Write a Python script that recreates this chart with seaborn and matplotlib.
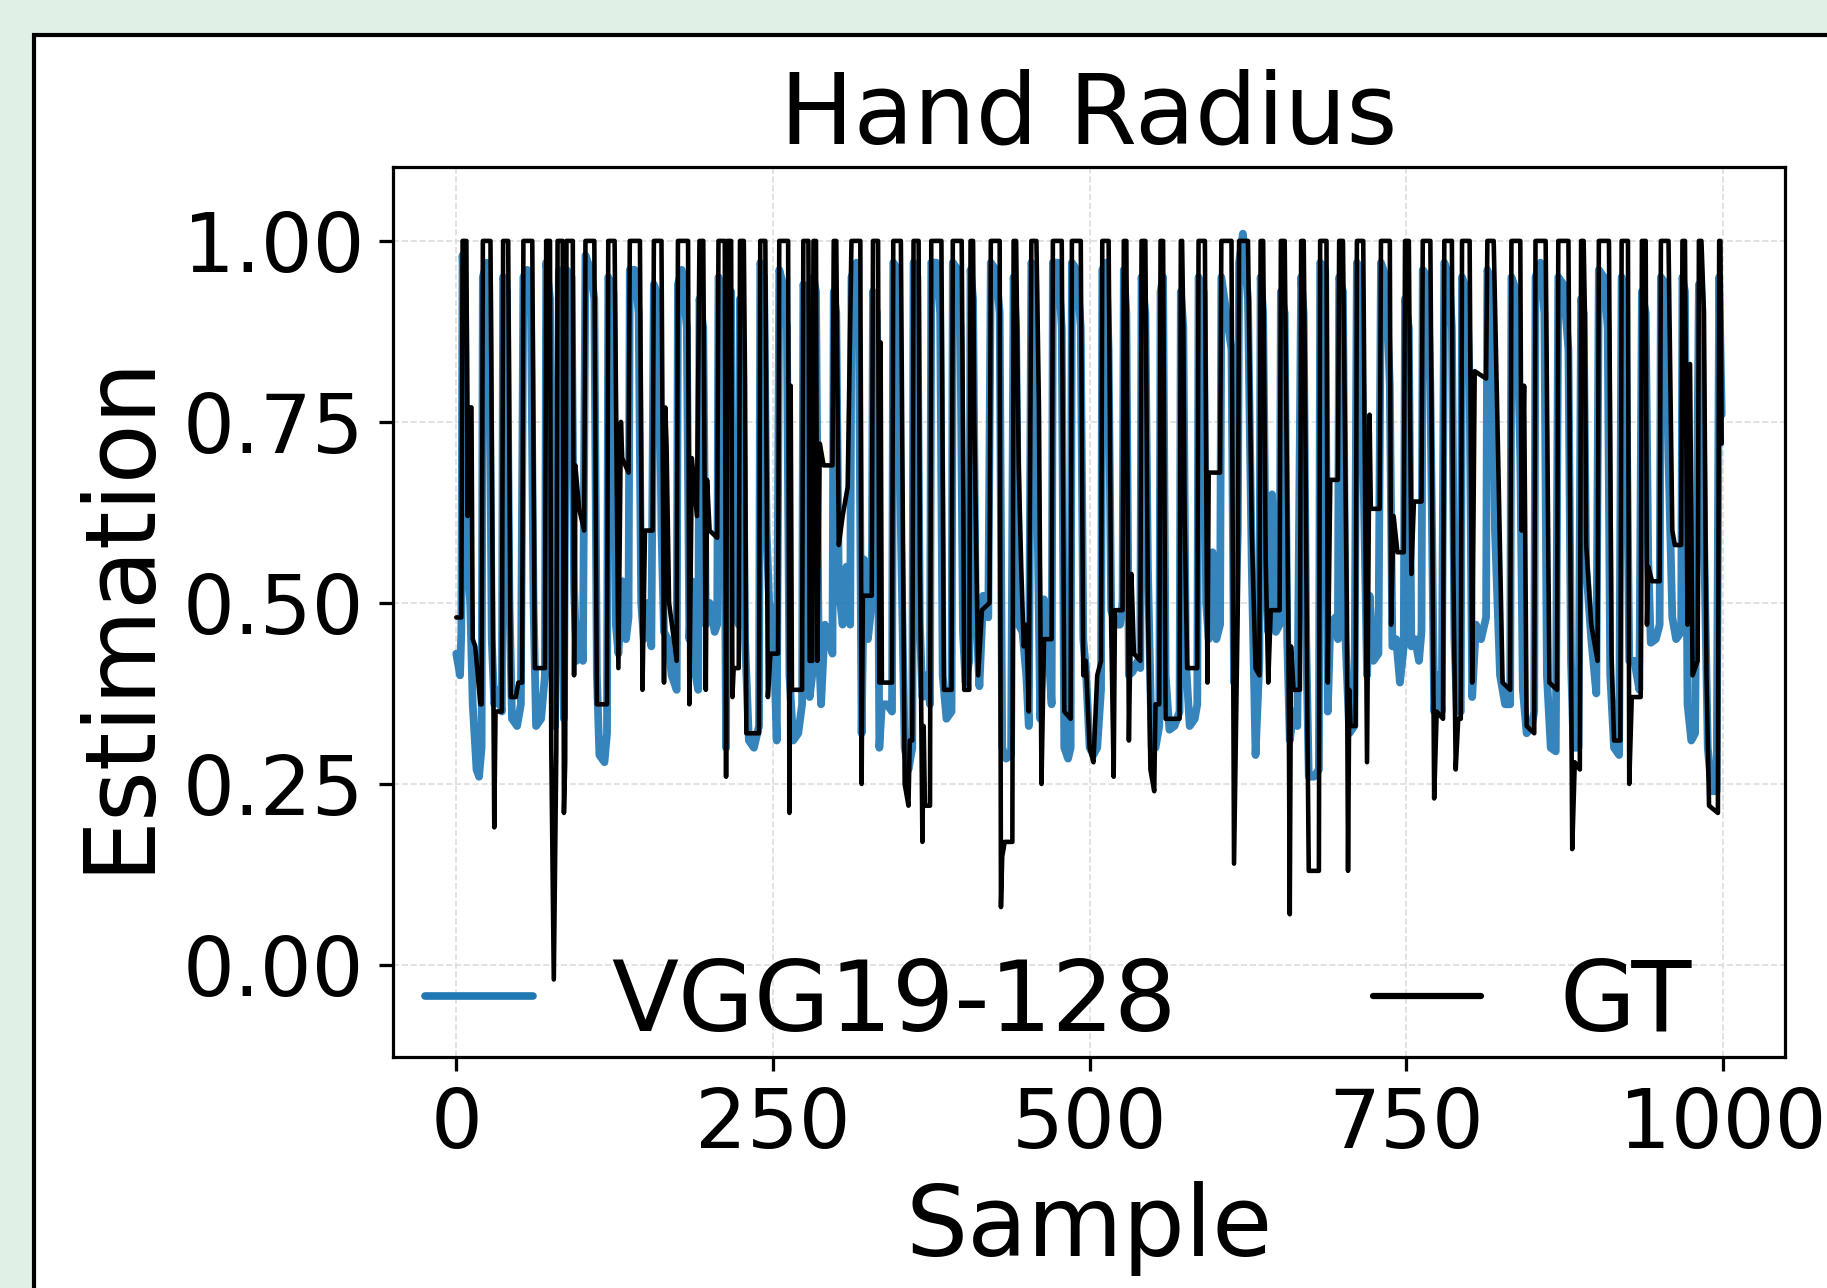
import matplotlib
matplotlib.use("Agg")
import matplotlib.pyplot as plt
from matplotlib.patches import Rectangle
from matplotlib.lines import Line2D
import seaborn as sns
import pandas as pd

gt_x = [0, 4, 5, 8, 9, 10, 12, 13, 15, 19, 20, 21, 27, 30, 31, 36, 37, 41, 43, 47, 49, 52, 53, 60, 62, 70,
        71, 74, 75, 77, 79, 80, 84, 85, 86, 87, 92, 93, 94, 97, 101, 102, 109, 111, 119, 120, 125, 128, 130,
        131, 136, 137, 145, 147, 149, 155, 156, 162, 164, 165, 166, 168, 174, 175, 183, 184, 186, 188, 190,
        192, 195, 197, 198, 200, 206, 207, 212, 213, 214, 217, 218, 219, 223, 224, 227, 228, 229, 239, 240,
        244, 246, 248, 254, 255, 262, 263, 264, 265, 273, 274, 278, 279, 281, 282, 284, 285, 287, 290, 297,
        298, 300, 302, 305, 309, 312, 319, 320, 321, 328, 329, 333, 334, 335, 336, 344, 345, 351, 354, 357,
        358, 360, 361, 365, 366, 368, 369, 370, 374, 375, 383, 385, 391, 392, 399, 400, 401, 405, 406, 408,
        409, 412, 415, 421, 422, 429, 430, 431, 433, 439, 440, 442, 444, 446, 448, 450, 452, 454, 458, 460,
        462, 464, 470, 471, 478, 480, 485, 486, 493, 495, 497, 500, 503, 506, 509, 510, 515, 516, 517, 519,
        520, 526, 527, 529, 531, 533, 535, 540, 541, 544, 546, 548, 551, 552, 555, 556, 558, 560, 571, 572,
        573, 574, 575, 577, 585, 586, 591, 593, 594, 603, 604, 612, 614, 617, 618, 625, 628, 631, 634, 635,
        637, 639, 641, 643, 650, 651, 654, 657, 658, 659, 661, 666, 667, 669, 670, 672, 673, 681, 682, 687,
        688, 690, 696, 697, 700, 703, 704, 705, 706, 710, 711, 716, 719, 721, 722, 729, 730, 737, 738, 740,
        743, 748, 749, 752, 754, 756, 762, 763, 769, 772, 774, 779, 780, 786, 787, 789, 791, 793, 794, 800,
        802, 804, 813, 814, 819, 823, 826, 832, 833, 840, 841, 843, 845, 851, 852, 860, 863, 869, 870, 878,
        881, 883, 887, 888, 890, 891, 892, 896, 901, 902, 910, 912, 914, 919, 920, 925, 926, 928, 935, 936,
        939, 940, 941, 944, 950, 951, 957, 960, 962, 967, 968, 970, 972, 974, 976, 980, 981, 983, 985, 987,
        989, 996, 997, 998, 999]
gt_y = [0.48, 0.48, 1, 1, 0.62, 0.77, 0.77, 0.45, 0.44, 0.36, 0.36, 1, 1, 0.19, 0.35, 0.35, 1, 1, 0.37, 0.37,
        0.39, 0.39, 1, 1, 0.41, 0.41, 1, 1, 0.30, -0.02, 0.30, 1, 1, 0.21, 0.28, 1, 1, 0.40, 0.69, 0.63, 0.60,
        1, 1, 0.36, 0.36, 1, 1, 0.41, 0.75, 0.70, 0.68, 1, 1, 0.38, 0.60, 0.60, 1, 1, 0.39, 0.77, 0.72, 0.50,
        0.42, 1, 1, 0.36, 0.70, 0.66, 0.62, 1, 1, 0.38, 0.67, 0.60, 0.59, 1, 1, 0.26, 1, 1, 0.37, 0.41, 0.41,
        1, 1, 0.80, 0.32, 0.32, 1, 1, 0.37, 0.43, 0.43, 1, 1, 0.21, 0.80, 0.38, 0.38, 1, 1, 0.42, 0.42, 1, 1,
        0.42, 0.72, 0.69, 0.69, 1, 1, 0.58, 0.62, 0.66, 1, 1, 0.25, 0.51, 0.51, 1, 1, 0.39, 0.86, 0.39, 0.39,
        1, 1, 0.25, 0.22, 0.31, 0.31, 1, 1, 0.56, 0.17, 0.33, 0.22, 0.22, 1, 1, 0.38, 0.38, 1, 1, 0.74, 0.38,
        0.38, 1, 1, 0.75, 0.40, 0.49, 0.50, 1, 1, 0.08, 0.15, 0.17, 0.17, 1, 1, 0.69, 0.55, 0.44, 0.47, 0.35,
        1, 1, 0.77, 0.25, 0.45, 0.45, 1, 1, 0.35, 0.34, 1, 1, 0.40, 0.42, 0.30, 0.28, 0.40, 0.42, 1, 1, 0.76,
        0.47, 0.26, 0.49, 0.49, 1, 1, 0.31, 0.54, 0.43, 0.42, 1, 1, 0.50, 0.27, 0.24, 0.36, 0.36, 1, 1, 0.34,
        0.34, 1, 1, 0.88, 0.62, 0.41, 0.41, 1, 1, 0.39, 0.68, 0.68, 1, 1, 0.14, 0.50, 1, 1, 0.60, 0.41, 0.40,
        1, 1, 0.56, 0.39, 0.49, 0.49, 1, 1, 0.44, 0.07, 0.44, 0.38, 0.38, 1, 1, 0.82, 0.32, 0.13, 0.13, 1, 1,
        0.39, 0.67, 0.67, 1, 1, 0.50, 0.13, 0.38, 0.33, 0.33, 1, 1, 0.28, 0.76, 0.63, 0.63, 1, 1, 0.47, 0.62,
        0.57, 0.57, 1, 1, 0.54, 0.64, 0.64, 1, 1, 0.23, 0.35, 0.34, 1, 1, 0.57, 0.27, 0.34, 0.34, 1, 1, 0.39,
        0.82, 0.81, 1, 1, 0.66, 0.39, 0.38, 1, 1, 0.60, 0.80, 0.33, 0.32, 1, 1, 0.39, 0.38, 1, 1, 0.16, 0.28,
        0.27, 1, 1, 0.90, 0.58, 0.47, 0.42, 1, 1, 0.43, 0.31, 0.31, 1, 1, 0.25, 0.37, 0.37, 1, 1, 0.47, 0.55,
        0.53, 0.53, 1, 1, 0.60, 0.58, 0.58, 1, 1, 0.47, 0.83, 0.40, 0.42, 1, 1, 0.90, 0.40, 0.22, 0.21, 1, 1,
        0.72]

# VGG19-128 estimate
pred_x = [0, 3, 4, 5, 7, 9, 11, 13, 16, 18, 20, 21, 24, 26, 28, 30, 33, 36, 37, 40, 42, 44, 48, 51, 53, 56,
          59, 61, 63, 67, 70, 71, 74, 76, 78, 80, 81, 83, 85, 86, 87, 91, 93, 95, 98, 100, 102, 106, 109, 111,
          113, 117, 119, 120, 124, 126, 128, 131, 134, 136, 137, 141, 144, 146, 148, 151, 154, 156, 160, 162,
          164, 167, 170, 174, 175, 178, 182, 184, 186, 189, 191, 192, 195, 197, 200, 204, 206, 207, 210, 212,
          213, 214, 217, 218, 220, 223, 224, 226, 228, 231, 235, 239, 240, 243, 245, 247, 250, 253, 255, 258,
          261, 263, 266, 270, 273, 274, 277, 279, 281, 282, 284, 286, 288, 291, 294, 297, 298, 300, 302, 305,
          308, 311, 312, 316, 318, 320, 322, 325, 328, 329, 332, 334, 336, 340, 344, 345, 349, 351, 354, 357,
          360, 361, 364, 366, 368, 371, 374, 375, 379, 382, 384, 387, 391, 392, 396, 398, 400, 402, 405, 406,
          408, 410, 413, 416, 420, 422, 426, 429, 431, 434, 438, 440, 442, 444, 447, 450, 452, 454, 457, 459,
          461, 464, 467, 470, 471, 475, 478, 480, 483, 485, 486, 490, 493, 495, 497, 500, 503, 506, 509, 510,
          513, 515, 517, 520, 524, 526, 527, 529, 531, 534, 538, 540, 541, 544, 546, 549, 552, 555, 556, 558,
          560, 563, 567, 571, 572, 574, 576, 579, 583, 585, 586, 590, 592, 594, 597, 600, 603, 604, 608, 612,
          614, 617, 618, 621, 625, 628, 631, 634, 635, 637, 639, 641, 644, 647, 650, 651, 654, 656, 658, 661,
          664, 667, 669, 671, 673, 677, 681, 682, 686, 688, 690, 694, 696, 697, 700, 702, 705, 709, 711, 714,
          716, 719, 721, 724, 728, 730, 734, 737, 739, 742, 745, 748, 749, 752, 754, 757, 760, 762, 763, 767,
          769, 772, 775, 778, 780, 784, 786, 788, 790, 793, 794, 798, 800, 802, 805, 809, 813, 814, 818, 820,
          824, 828, 832, 833, 837, 840, 842, 845, 849, 851, 852, 856, 859, 861, 864, 868, 870, 874, 878, 880,
          882, 886, 888, 890, 892, 896, 900, 902, 906, 909, 911, 914, 918, 920, 923, 926, 930, 934, 936, 939,
          941, 943, 947, 950, 951, 955, 957, 960, 963, 967, 968, 970, 972, 975, 978, 981, 983, 985, 988, 991,
          995, 997, 999]
pred_y = [0.43, 0.40, 0.46, 0.98, 0.90, 0.55, 0.50, 0.36, 0.27, 0.26, 0.30, 0.95, 0.97, 0.94, 0.45, 0.36,
          0.38, 0.35, 0.95, 0.93, 0.50, 0.34, 0.33, 0.36, 0.95, 0.96, 0.90, 0.50, 0.33, 0.34, 0.40, 0.97, 0.92,
          0.40, 0.33, 0.60, 0.96, 0.90, 0.34, 0.64, 0.96, 0.95, 0.52, 0.42, 0.47, 0.42, 0.98, 0.96, 0.92, 0.40,
          0.29, 0.28, 0.32, 0.95, 0.93, 0.47, 0.43, 0.53, 0.45, 0.48, 0.96, 0.96, 0.90, 0.50, 0.45, 0.50, 0.44,
          0.94, 0.92, 0.60, 0.46, 0.45, 0.40, 0.38, 0.94, 0.96, 0.88, 0.45, 0.53, 0.40, 0.38, 0.92, 0.88, 0.47,
          0.50, 0.46, 0.47, 0.95, 0.93, 0.60, 0.30, 0.90, 0.93, 0.50, 0.49, 0.47, 0.92, 0.85, 0.45, 0.31, 0.30,
          0.33, 0.97, 0.95, 0.60, 0.50, 0.48, 0.31, 0.96, 0.94, 0.88, 0.40, 0.31, 0.32, 0.36, 0.94, 0.92, 0.37,
          0.40, 0.95, 0.93, 0.45, 0.36, 0.47, 0.45, 0.43, 0.93, 0.90, 0.52, 0.47, 0.55, 0.47, 0.95, 0.97, 0.85,
          0.32, 0.56, 0.45, 0.50, 0.93, 0.90, 0.30, 0.36, 0.36, 0.35, 0.97, 0.96, 0.60, 0.30, 0.27, 0.30, 0.97,
          0.95, 0.47, 0.37, 0.40, 0.36, 0.97, 0.97, 0.90, 0.40, 0.34, 0.35, 0.97, 0.96, 0.88, 0.46, 0.39, 0.42,
          0.96, 0.92, 0.50, 0.385, 0.51, 0.48, 0.97, 0.96, 0.90, 0.30, 0.285, 0.29, 0.95, 0.88, 0.47, 0.46,
          0.40, 0.33, 0.97, 0.95, 0.60, 0.34, 0.505, 0.45, 0.36, 0.97, 0.97, 0.88, 0.30, 0.285, 0.30, 0.97,
          0.96, 0.88, 0.45, 0.41, 0.30, 0.29, 0.30, 0.38, 0.96, 0.97, 0.85, 0.49, 0.47, 0.47, 0.50, 0.96, 0.90,
          0.40, 0.405, 0.42, 0.41, 0.95, 0.90, 0.55, 0.30, 0.30, 0.33, 0.93, 0.95, 0.40, 0.325, 0.33, 0.35,
          0.93, 0.88, 0.42, 0.33, 0.34, 0.36, 0.95, 0.93, 0.50, 0.45, 0.57, 0.45, 0.47, 0.95, 0.90, 0.85, 0.39,
          0.60, 0.97, 1.01, 0.92, 0.55, 0.29, 0.42, 0.95, 0.90, 0.55, 0.46, 0.65, 0.46, 0.47, 0.93, 0.90, 0.45,
          0.31, 0.35, 0.33, 0.95, 0.90, 0.45, 0.26, 0.26, 0.27, 0.97, 0.96, 0.35, 0.47, 0.48, 0.45, 0.95, 0.93,
          0.45, 0.32, 0.33, 0.97, 0.95, 0.70, 0.40, 0.51, 0.42, 0.43, 0.97, 0.95, 0.80, 0.44, 0.45, 0.39, 0.44,
          0.92, 0.88, 0.44, 0.45, 0.42, 0.46, 0.96, 0.95, 0.80, 0.35, 0.40, 0.35, 0.97, 0.95, 0.88, 0.45, 0.35,
          0.35, 0.95, 0.93, 0.80, 0.37, 0.47, 0.45, 0.48, 0.96, 0.93, 0.60, 0.40, 0.36, 0.36, 0.95, 0.93, 0.70,
          0.38, 0.32, 0.33, 0.35, 0.95, 0.97, 0.90, 0.40, 0.30, 0.295, 0.95, 0.94, 0.85, 0.42, 0.30, 0.30, 0.92,
          0.90, 0.55, 0.45, 0.375, 0.96, 0.95, 0.88, 0.40, 0.30, 0.29, 0.95, 0.93, 0.42, 0.42, 0.38, 0.93, 0.90,
          0.56, 0.445, 0.45, 0.47, 0.95, 0.94, 0.70, 0.48, 0.45, 0.46, 0.95, 0.93, 0.36, 0.31, 0.32, 0.94, 0.93,
          0.60, 0.30, 0.24, 0.24, 0.95, 0.76]

x_ticks = [0, 250, 500, 750, 1000]
y_ticks = [0.0, 0.25, 0.5, 0.75, 1.0]

sns.set_style("white")
plt.rcParams['font.family'] = ['DejaVu Sans']
plt.rcParams['text.color'] = 'black'
plt.rcParams['axes.labelcolor'] = 'black'
plt.rcParams['xtick.color'] = 'black'
plt.rcParams['ytick.color'] = 'black'

fig = plt.figure(figsize=(18.27, 12.88), dpi=100)
fig.patch.set_facecolor('#e1f0e6')
# white panel with a black edge, cut off at the right and bottom
panel = Rectangle((34 / 1827, -0.2), 1.2, 0.2 + 1 - 35 / 1288, transform=fig.transFigure,
                  facecolor='white', edgecolor='black', linewidth=3.0, zorder=-1)
fig.patches.append(panel)

ax = fig.add_axes([0.2151, 0.1794, 0.7619, 0.6909])

pred_df = pd.DataFrame({'Sample': pred_x, 'Estimation': pred_y})
gt_df = pd.DataFrame({'Sample': gt_x, 'Estimation': gt_y})
sns.lineplot(data=pred_df, x='Sample', y='Estimation', ax=ax, color='#1f77b4', alpha=0.9,
             linewidth=5.6, sort=False, estimator=None)
sns.lineplot(data=gt_df, x='Sample', y='Estimation', ax=ax, color='black',
             linewidth=3.3, sort=False, estimator=None)

ax.set_ylim(-0.127, 1.102)
ax.set_xticks(x_ticks)
ax.set_yticks(y_ticks)
ax.grid(True, linestyle='--', color='#dddddd', linewidth=1.2)
for s in ax.spines.values():
    s.set_linewidth(2.3)
    s.set_color('black')
ax.tick_params(axis='both', which='major', labelsize=58.8, length=10.3, width=2.35,
               pad=10.3, direction='out', bottom=True, left=True, colors='black')

ax.set_title('Hand Radius', fontsize=70.6, pad=17, color='black')
ax.set_xlabel('Sample', fontsize=70.6, labelpad=11.8)
ax.set_ylabel('Estimation', fontsize=70.6, labelpad=11.8)

handles = [Line2D([], [], color='#1f77b4', linewidth=5.5),
           Line2D([], [], color='black', linewidth=4.5)]
ax.legend(handles, ['VGG19-128', 'GT'], loc='lower center', bbox_to_anchor=(0.478, -0.092),
          ncol=2, frameon=False, fontsize=70.6, handlelength=1.1, labelcolor='black')

fig.savefig('out.png', dpi=100, facecolor=fig.get_facecolor())
